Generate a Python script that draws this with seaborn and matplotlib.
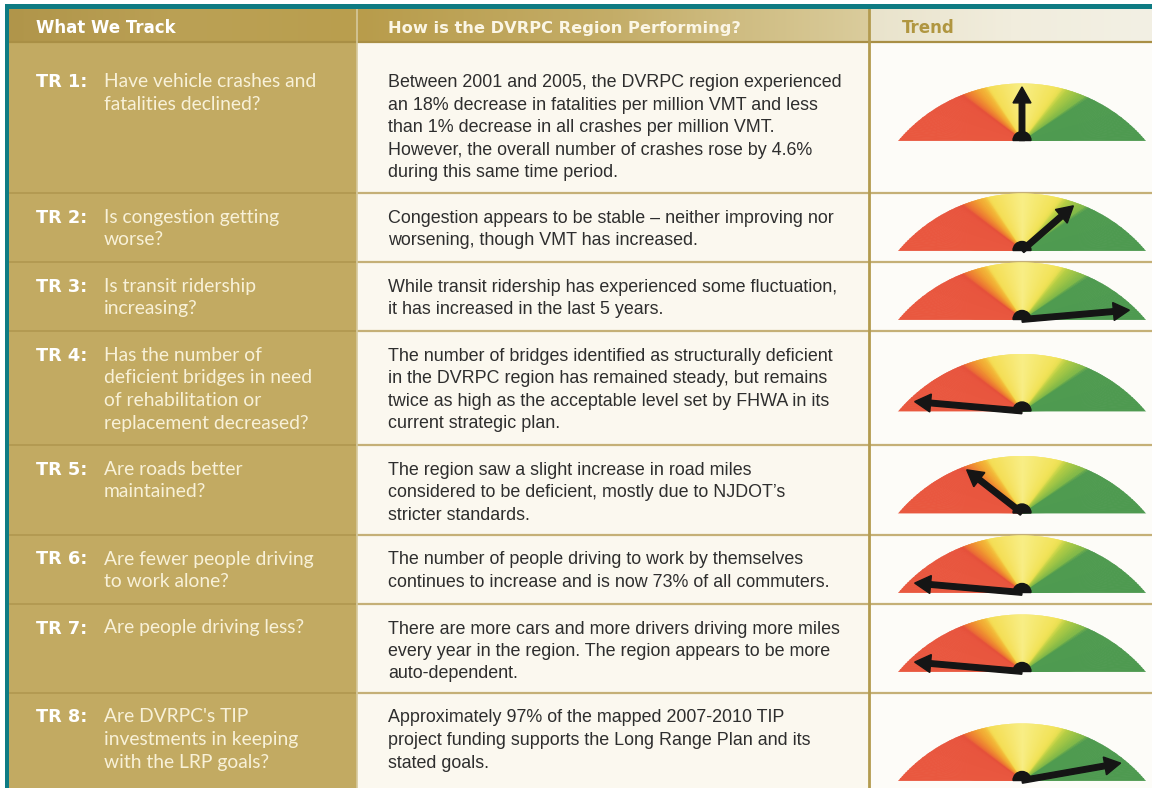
import numpy as np
import matplotlib.pyplot as plt
import seaborn as sns
from matplotlib.patches import Wedge, Circle, Rectangle
from matplotlib.colors import LinearSegmentedColormap

# Table content
headers = ["What We Track", "How is the DVRPC Region Performing?", "Trend"]
track_ids = ["TR 1:", "TR 2:", "TR 3:", "TR 4:", "TR 5:", "TR 6:", "TR 7:", "TR 8:"]
questions = [
    ["Have vehicle crashes and", "fatalities declined?"],
    ["Is congestion getting", "worse?"],
    ["Is transit ridership", "increasing?"],
    ["Has the number of", "deficient bridges in need", "of rehabilitation or",
     "replacement decreased?"],
    ["Are roads better", "maintained?"],
    ["Are fewer people driving", "to work alone?"],
    ["Are people driving less?"],
    ["Are DVRPC's TIP", "investments in keeping", "with the LRP goals?"],
]
descriptions = [
    ["Between 2001 and 2005, the DVRPC region experienced",
     "an 18% decrease in fatalities per million VMT and less",
     "than 1% decrease in all crashes per million VMT.",
     "However, the overall number of crashes rose by 4.6%",
     "during this same time period."],
    ["Congestion appears to be stable \u2013 neither improving nor",
     "worsening, though VMT has increased."],
    ["While transit ridership has experienced some fluctuation,",
     "it has increased in the last 5 years."],
    ["The number of bridges identified as structurally deficient",
     "in the DVRPC region has remained steady, but remains",
     "twice as high as the acceptable level set by FHWA in its",
     "current strategic plan."],
    ["The region saw a slight increase in road miles",
     "considered to be deficient, mostly due to NJDOT\u2019s",
     "stricter standards."],
    ["The number of people driving to work by themselves",
     "continues to increase and is now 73% of all commuters."],
    ["There are more cars and more drivers driving more miles",
     "every year in the region. The region appears to be more",
     "auto-dependent."],
    ["Approximately 97% of the mapped 2007-2010 TIP",
     "project funding supports the Long Range Plan and its",
     "stated goals."],
]
# needle direction of each trend gauge, degrees (0 = right / better, 180 = left / worse)
trend_angles = [90, 41, 5, 175, 142, 175, 175, 10]

# Layout (pixels from top-left)
W, H = 1152, 788
row_edges = [42, 193, 262, 331, 445, 535, 604, 693, 822]
col_edges = [8, 357, 869, W]

TEAL = "#0E7B83"
GOLD = "#C2AA62"
CREAM = "#FBF8EF"
WHITE_CELL = "#FDFCF8"
TEXT_DARK = "#2E2E2E"
Q_TEXT = "#F8F1D8"

sns.set_theme(style="white")
plt.rcParams['font.family'] = ['Liberation Sans', 'DejaVu Sans']

fig = plt.figure(figsize=(W / 100, H / 100), dpi=100)
ax = fig.add_axes([0, 0, 1, 1])
fig.patch.set_facecolor("white")

# cell backgrounds
ax.add_patch(Rectangle((col_edges[0], row_edges[0]), col_edges[1] - col_edges[0], H,
                       color=GOLD, lw=0, zorder=0))
ax.add_patch(Rectangle((col_edges[1], row_edges[0]), col_edges[2] - col_edges[1], H,
                       color=CREAM, lw=0, zorder=0))
ax.add_patch(Rectangle((col_edges[2], row_edges[0]), W - col_edges[2], H,
                       color=WHITE_CELL, lw=0, zorder=0))

# header gradients
head_cmaps = [
    sns.blend_palette(["#B0954A", "#BBA155", "#B99E4E"], as_cmap=True),
    sns.blend_palette(["#B89C4B", "#C4AD68", "#DACC9C"], as_cmap=True),
    sns.blend_palette(["#E9E3CB", "#F1EDDD", "#F3F0E4"], as_cmap=True),
]
grad = np.linspace(0, 1, 256).reshape(1, -1)
for i, cm in enumerate(head_cmaps):
    ax.imshow(grad, cmap=cm, aspect="auto", interpolation="bicubic",
              extent=(col_edges[i], col_edges[i + 1], row_edges[0], 8), zorder=0.5)

# grid lines
ax.plot([col_edges[0], W], [row_edges[0], row_edges[0]], color="#A98F45", lw=1.6, zorder=2)
for y in row_edges[1:-1]:
    ax.plot([col_edges[0], col_edges[1]], [y, y], color="#B0974F", lw=1.2, zorder=2)
    ax.plot([col_edges[1], W], [y, y], color="#C5B077", lw=1.6, zorder=2)
ax.plot([col_edges[1], col_edges[1]], [8, H], color="#D6C99D", lw=1.2, zorder=2)
ax.plot([col_edges[2], col_edges[2]], [8, H], color="#B39B4F", lw=2.0, zorder=2)

# teal frame
ax.add_patch(Rectangle((5, 4), W, 4.5, color=TEAL, lw=0, zorder=3))
ax.add_patch(Rectangle((5, 4), 4, H, color=TEAL, lw=0, zorder=3))

# headers
ax.text(36, 32.5, headers[0], color="white", fontsize=12, fontweight="heavy",
        family=["DejaVu Sans"], va="baseline", zorder=4)
ax.text(388, 32.5, headers[1], color="#FBF6E6", fontsize=11.7, fontweight="heavy",
        family=["DejaVu Sans"], va="baseline", zorder=4)
ax.text(902, 32.5, headers[2], color="#B09640", fontsize=12, fontweight="heavy",
        family=["DejaVu Sans"], va="baseline", zorder=4)

# gauge colours from right (green) to left (red)
gauge_cmap = LinearSegmentedColormap.from_list("gauge", [
    (0.000, "#4E9A50"), (0.180, "#4F9B50"), (0.195, "#7FB848"), (0.270, "#B8CF44"),
    (0.295, "#E9E052"), (0.320, "#F2E35A"), (0.500, "#F8EE86"), (0.680, "#F4DE55"),
    (0.700, "#F3BE3A"), (0.745, "#F09A30"), (0.785, "#EC6E33"), (0.800, "#E5503A"),
    (0.820, "#E8553E"), (1.000, "#E9583F")])

GX, HALF_W, CAP_H = 1022, 123.5, 57
R = (HALF_W ** 2 + CAP_H ** 2) / (2 * CAP_H)
drop = R - CAP_H


def arc_dist(a_deg):
    s = np.sin(np.radians(a_deg))
    c2 = drop ** 2 - R ** 2
    return (-2 * drop * s + np.sqrt((2 * drop * s) ** 2 - 4 * c2)) / 2


for i in range(len(track_ids)):
    top, bot = row_edges[i], row_edges[i + 1]
    first = top + (45 if i == 0 else 29.5)
    ax.text(36, first, track_ids[i], color="white", fontsize=12.8, fontweight="heavy",
            family=["DejaVu Sans"], va="baseline", zorder=4)
    for j, line in enumerate(questions[i]):
        ax.text(104, first + j * 22.7, line, color=Q_TEXT, fontsize=13.9,
                family=["Lato", "DejaVu Sans"], va="baseline", zorder=4)
    for j, line in enumerate(descriptions[i]):
        ax.text(388, first + j * 22.5, line, color=TEXT_DARK, fontsize=12.9,
                va="baseline", zorder=4)

    # trend gauge
    base = (top + bot) / 2 + 23
    clip = Circle((GX, base + drop), R, transform=ax.transData)
    n = 180
    for k in range(n):
        a0 = 180 * k / n
        col = gauge_cmap(k / (n - 1))
        w = Wedge((GX, base), R, -(a0 + 180 / n), -a0, facecolor=col,
                  edgecolor=col, lw=0.6, zorder=3)
        ax.add_patch(w)
        w.set_clip_path(clip)
    ang = trend_angles[i]
    L = 0.94 * arc_dist(ang)
    dx, dy = L * np.cos(np.radians(ang)), -L * np.sin(np.radians(ang))
    ax.arrow(GX, base, dx, dy, width=5.5, head_width=18, head_length=16,
             length_includes_head=True, color="#151515", zorder=5)
    ax.add_patch(Wedge((GX, base), 9, 180, 360, color="#151515", zorder=5))

ax.set_xlim(0, W)
ax.set_ylim(H, 0)
ax.axis("off")
fig.savefig("out.png", dpi=100)
